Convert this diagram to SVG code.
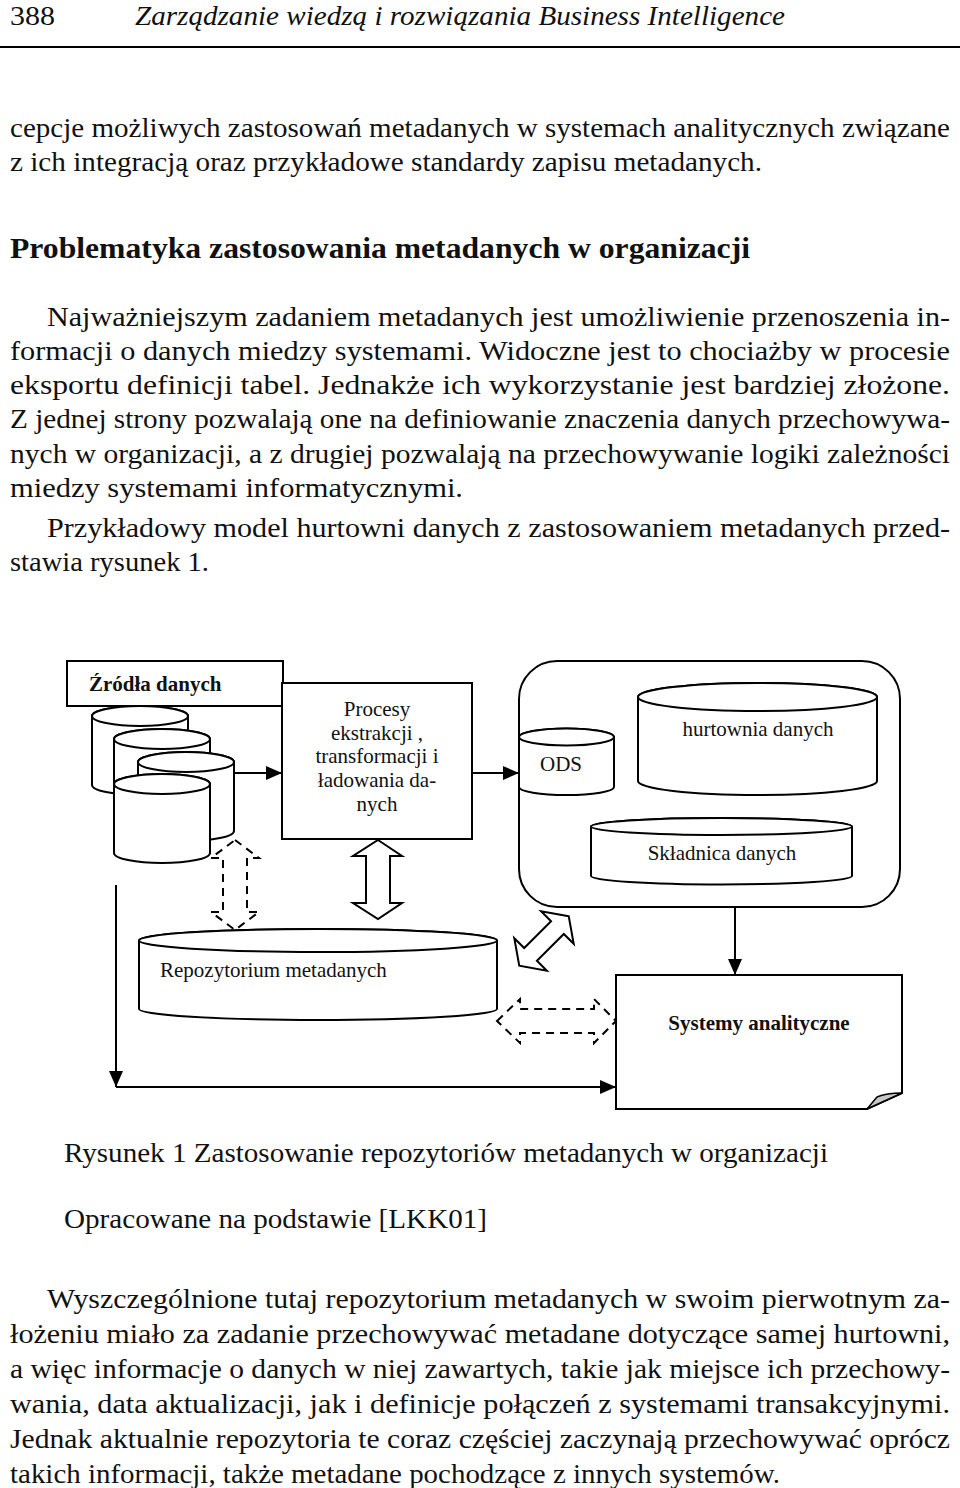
<svg xmlns="http://www.w3.org/2000/svg" width="960" height="1488" viewBox="0 0 960 1488">
<style>
text{font-family:'Liberation Serif','Times New Roman',Times,serif;fill:#111}
.body{font-size:28px}
.hdr{font-size:28px;font-style:italic}
.h1{font-size:30px;font-weight:bold}
.lbl{font-size:21px}
.lblb{font-size:21px;font-weight:bold}
.shape{fill:#fff;stroke:#000;stroke-width:2}
.ln{fill:none;stroke:#000;stroke-width:2}
.dash{fill:none;stroke:#000;stroke-width:2;stroke-dasharray:8 6}
</style>
<defs>
<marker id="ah" markerUnits="userSpaceOnUse" markerWidth="16" markerHeight="14" refX="16" refY="7" orient="auto">
<path d="M0,0 L16,7 L0,14 Z" fill="#000"/>
</marker>
</defs>
<rect width="960" height="1488" fill="#fff"/>

<g id="page-text" font-family="Liberation Serif, Times New Roman, serif">
<text class="body" x="10" y="25" textLength="45" lengthAdjust="spacingAndGlyphs">388</text>
<text class="hdr" x="135" y="25" textLength="650" lengthAdjust="spacingAndGlyphs">Zarządzanie wiedzą i rozwiązania Business Intelligence</text>
<line x1="0" y1="47" x2="960" y2="47" stroke="#000" stroke-width="2"/>
<text class="body" x="10" y="137" textLength="940" lengthAdjust="spacingAndGlyphs">cepcje możliwych zastosowań metadanych w systemach analitycznych związane</text>
<text class="body" x="10" y="171" textLength="752" lengthAdjust="spacingAndGlyphs">z ich integracją oraz przykładowe standardy zapisu metadanych.</text>
<text class="h1" x="10" y="258" textLength="740" lengthAdjust="spacingAndGlyphs">Problematyka zastosowania metadanych w organizacji</text>
<text class="body" x="47" y="326" textLength="903" lengthAdjust="spacingAndGlyphs">Najważniejszym zadaniem metadanych jest umożliwienie przenoszenia in-</text>
<text class="body" x="10" y="360" textLength="940" lengthAdjust="spacingAndGlyphs">formacji o danych miedzy systemami. Widoczne jest to chociażby w procesie</text>
<text class="body" x="10" y="394" textLength="940" lengthAdjust="spacingAndGlyphs">eksportu definicji tabel. Jednakże ich wykorzystanie jest bardziej złożone.</text>
<text class="body" x="10" y="428" textLength="940" lengthAdjust="spacingAndGlyphs">Z jednej strony pozwalają one na definiowanie znaczenia danych przechowywa-</text>
<text class="body" x="10" y="463" textLength="940" lengthAdjust="spacingAndGlyphs">nych w organizacji, a z drugiej pozwalają na przechowywanie logiki zależności</text>
<text class="body" x="10" y="497" textLength="453" lengthAdjust="spacingAndGlyphs">miedzy systemami informatycznymi.</text>
<text class="body" x="47" y="537" textLength="903" lengthAdjust="spacingAndGlyphs">Przykładowy model hurtowni danych z zastosowaniem metadanych przed-</text>
<text class="body" x="10" y="571" textLength="199" lengthAdjust="spacingAndGlyphs">stawia rysunek 1.</text>
<text class="body" x="64" y="1162" textLength="764" lengthAdjust="spacingAndGlyphs">Rysunek 1 Zastosowanie repozytoriów metadanych w organizacji</text>
<text class="body" x="64" y="1228" textLength="423" lengthAdjust="spacingAndGlyphs">Opracowane na podstawie [LKK01]</text>
<text class="body" x="47" y="1308" textLength="903" lengthAdjust="spacingAndGlyphs">Wyszczególnione tutaj repozytorium metadanych w swoim pierwotnym za-</text>
<text class="body" x="10" y="1343" textLength="940" lengthAdjust="spacingAndGlyphs">łożeniu miało za zadanie przechowywać metadane dotyczące samej hurtowni,</text>
<text class="body" x="10" y="1378" textLength="940" lengthAdjust="spacingAndGlyphs">a więc informacje o danych w niej zawartych, takie jak miejsce ich przechowy-</text>
<text class="body" x="10" y="1413" textLength="940" lengthAdjust="spacingAndGlyphs">wania, data aktualizacji, jak i definicje połączeń z systemami transakcyjnymi.</text>
<text class="body" x="10" y="1448" textLength="940" lengthAdjust="spacingAndGlyphs">Jednak aktualnie repozytoria te coraz częściej zaczynają przechowywać oprócz</text>
<text class="body" x="10" y="1483" textLength="770" lengthAdjust="spacingAndGlyphs">takich informacji, także metadane pochodzące z innych systemów.</text>
</g>

<g id="zrodla-danych">
<rect class="shape" x="67" y="661" width="216" height="45"/>
<text class="lblb" x="89" y="691">Źródła danych</text>
<path class="shape" d="M92 716 V785 A48 10 0 0 0 188 785 V716 A48 10 0 0 0 92 716 Z"/>
<ellipse class="shape" cx="140" cy="716" rx="48" ry="10"/>
<path class="shape" d="M114 739 V808 A48 10 0 0 0 210 808 V739 A48 10 0 0 0 114 739 Z"/>
<ellipse class="shape" cx="162" cy="739" rx="48" ry="10"/>
<path class="shape" d="M138 762 V831 A48 10 0 0 0 234 831 V762 A48 10 0 0 0 138 762 Z"/>
<ellipse class="shape" cx="186" cy="762" rx="48" ry="10"/>
<path class="shape" d="M114 784 V853 A48 10 0 0 0 210 853 V784 A48 10 0 0 0 114 784 Z"/>
<ellipse class="shape" cx="162" cy="784" rx="48" ry="10"/>
</g>

<g id="procesy-etl">
<rect class="shape" x="282" y="683" width="190" height="156"/>
<text class="lbl" text-anchor="middle" x="377" y="716">Procesy</text>
<text class="lbl" text-anchor="middle" x="377" y="740">ekstrakcji ,</text>
<text class="lbl" text-anchor="middle" x="377" y="763">transformacji i</text>
<text class="lbl" text-anchor="middle" x="377" y="787">ładowania da-</text>
<text class="lbl" text-anchor="middle" x="377" y="811">nych</text>
</g>

<g id="skladnica-kontener">
<rect class="shape" x="519" y="661" width="381" height="246" rx="38" ry="38"/>
</g>

<g id="ods">
<path class="shape" d="M519 737 V787 A47.5 8 0 0 0 614 787 V737 A47.5 8.5 0 0 0 519 737 Z"/>
<ellipse class="shape" cx="566.5" cy="737" rx="47.5" ry="8.5"/>
<text class="lbl" text-anchor="middle" x="561" y="771">ODS</text>
</g>

<g id="hurtownia-danych">
<path class="shape" d="M638 697 V781 A119.5 14 0 0 0 877 781 V697 A119.5 14 0 0 0 638 697 Z"/>
<ellipse class="shape" cx="757.5" cy="697" rx="119.5" ry="14"/>
<text class="lbl" text-anchor="middle" x="758" y="736">hurtownia danych</text>
</g>

<g id="skladnica-danych">
<path class="shape" d="M591 826.5 V876 A130.5 8.5 0 0 0 852 876 V826.5 A130.5 8.5 0 0 0 591 826.5 Z"/>
<ellipse class="shape" cx="721.5" cy="826.5" rx="130.5" ry="8.5"/>
<text class="lbl" text-anchor="middle" x="722" y="860">Składnica danych</text>
</g>

<g id="repozytorium">
<path class="shape" d="M139 940.5 V1009 A179 11 0 0 0 497 1009 V940.5 A179 11.5 0 0 0 139 940.5 Z"/>
<ellipse class="shape" cx="318" cy="940.5" rx="179" ry="11.5"/>
<text class="lbl" x="160" y="977">Repozytorium metadanych</text>
</g>

<g id="systemy-analityczne">
<path class="shape" d="M616 975 H902 V1093 L867 1109 H616 Z"/>
<path d="M902 1093 Q886 1093 877 1097 L867 1109 Z" fill="#c8c8c8" stroke="#000" stroke-width="1.5" stroke-linejoin="round"/>
<text class="lblb" text-anchor="middle" x="759" y="1030">Systemy analityczne</text>
</g>

<g id="connectors">
<line class="ln" x1="234" y1="773" x2="282" y2="773" marker-end="url(#ah)"/>
<line class="ln" x1="472" y1="773" x2="519" y2="773" marker-end="url(#ah)"/>
<line class="ln" x1="735" y1="907" x2="735" y2="975" marker-end="url(#ah)"/>
<line class="ln" x1="116" y1="885" x2="116" y2="1087" marker-end="url(#ah)"/>
<line class="ln" x1="116" y1="1087" x2="616" y2="1087" marker-end="url(#ah)"/>
<polygon class="shape" points="378,840 402,856 390,856 390,903 402,903 378,919 353,903 366,903 366,856 353,856"/>
<polygon class="dash" points="235,840 259,858 247,858 247,912 259,912 235,930 211,912 223,912 223,858 211,858"/>
<polygon class="shape" transform="translate(544,941) rotate(-45)" points="35,0 19,-23 19,-9 -19,-9 -19,-23 -35,0 -19,23 -19,9 19,9 19,23"/>
<polygon class="dash" points="497,1021 520,999 520,1009 594,1009 594,999 616,1021 594,1043 594,1033 520,1033 520,1043"/>
</g>
</svg>
